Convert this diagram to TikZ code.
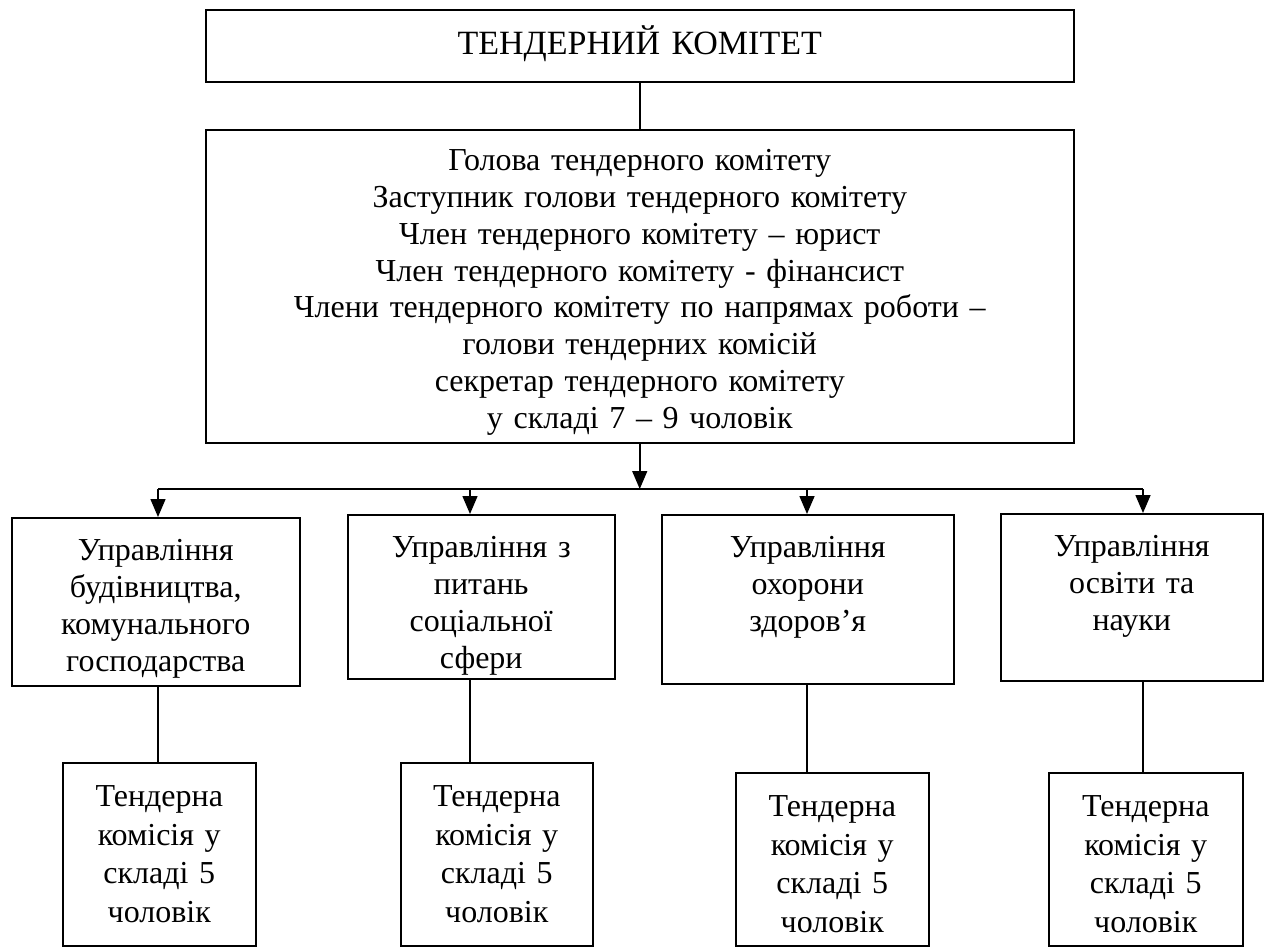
\documentclass[tikz,border=0pt]{standalone}
\usepackage{fontspec}
\setmainfont{Liberation Serif}
\usetikzlibrary{arrows.meta}

\begin{document}
\begin{tikzpicture}[
  x=1pt, y=-1pt,
  font=\fontsize{32}{36.8}\selectfont,
  box/.style={draw, line width=1.5pt, inner sep=0pt, align=center, anchor=north west},
  combox/.style={box, text height=44pt, font=\fontsize{32}{38.5}\selectfont},
  arr/.style={line width=1.5pt, -{Triangle[length=18pt, width=15pt]}},
  ln/.style={line width=1.5pt}
]
\useasboundingbox (0,0) rectangle (1269,946);
\node [box, text width=868pt, text height=45pt, text depth=27pt, font=\fontsize{34}{40}\selectfont] (com) at (205,9) {ТЕНДЕРНИЙ КОМІТЕТ};
\node [box, text width=868pt, text height=41pt, text depth=272pt] (head) at (205,129)
  {Голова тендерного комітету\\
   Заступник голови тендерного комітету\\
   Член тендерного комітету – юрист\\
   Член тендерного комітету - фінансист\\
   Члени тендерного комітету по напрямах роботи –\\
   голови тендерних комісій\\
   секретар тендерного комітету\\
   у складі 7 – 9 чоловік};
\node [box, text width=288pt, text height=43pt, text depth=125pt] (d1) at (11,517)
  {Управління\\ будівництва,\\ комунального\\ господарства};
\node [box, text width=267pt, text height=43pt, text depth=121pt] (d2) at (347,514)
  {Управління з\\ питань\\ соціальної\\ сфери};
\node [box, text width=292pt, text height=43pt, text depth=126pt] (d3) at (661,514)
  {Управління\\ охорони\\ здоров’я};
\node [box, text width=262pt, text height=43pt, text depth=124pt] (d4) at (1000,513)
  {Управління\\ освіти та\\ науки};
\node [combox, text width=193pt, text depth=139pt] (c1) at (62,762)
  {Тендерна\\ комісія у\\ складі 5\\ чоловік};
\node [combox, text width=192pt, text depth=139pt] (c2) at (400,762)
  {Тендерна\\ комісія у\\ складі 5\\ чоловік};
\node [combox, text width=193pt, text depth=129pt] (c3) at (735,772)
  {Тендерна\\ комісія у\\ складі 5\\ чоловік};
\node [combox, text width=194pt, text depth=129pt] (c4) at (1048,772)
  {Тендерна\\ комісія у\\ складі 5\\ чоловік};
\coordinate (b1) at (158,489);
\coordinate (b2) at (470,489);
\coordinate (b3) at (807,489);
\coordinate (b4) at (1143,489);
\draw [ln] (com) -- (head);
\draw [arr] (head.south) -- (head.south |- b1);
\draw [ln] (b1) -- (b4);
\draw [arr] (b1) -- (b1 |- d1.north);
\draw [arr] (b2) -- (b2 |- d2.north);
\draw [arr] (b3) -- (b3 |- d3.north);
\draw [arr] (b4) -- (b4 |- d4.north);
\draw [ln] (b1 |- d1.south) -- (b1 |- c1.north);
\draw [ln] (b2 |- d2.south) -- (b2 |- c2.north);
\draw [ln] (b3 |- d3.south) -- (b3 |- c3.north);
\draw [ln] (b4 |- d4.south) -- (b4 |- c4.north);
\end{tikzpicture}
\end{document}
